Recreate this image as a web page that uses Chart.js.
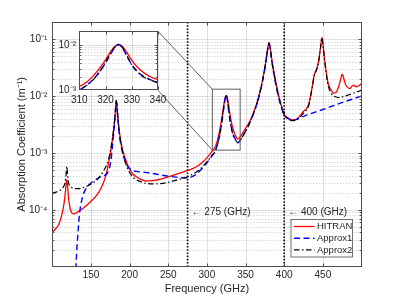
<!DOCTYPE html>
<html><head><meta charset="utf-8">
<script src="https://cdn.jsdelivr.net/npm/chart.js@4"></script>
<style>
html,body{margin:0;padding:0;background:#fff;}
#wrap{position:relative;width:399px;height:299px;overflow:hidden;}
#main{position:absolute;left:0;top:0;}
#inset{position:absolute;left:45px;top:22px;}
</style></head><body>
<div id="wrap"><canvas id="main" width="399" height="299"></canvas><canvas id="inset" width="125" height="90"></canvas></div>
<script>
// ---------- data ----------
const hitranFreq = [100,104,108,111,113,115,116.5,117.5,118.2,118.75,119.3,120,121,122.5,124,126,128,132,138,145,152,158,163,167,170,173,175.5,177.5,179.5,181,182,182.7,183.4,184.5,186,188,190,192,195,199,204,210,216,222,230,240,250,260,270,280,288,295,300,304,307,310,313,316,318,320,322,323.5,325,326.5,328,330,332,334,337,340,344,350,355,360,365,369,372,375,377,379,380.3,381.5,383,385,387,390,393,396,400,405,410,415,420,425,428,432,436,439,441,443,445,447,448.8,450.5,452,454,456,458,461,464,467,470,472.5,474.5,475.5,477,479,482,485,488,490,493,496,500];
const hitranAbs = [4.0e-5,4.6e-5,5.4e-5,7.0e-5,9.0e-5,1.25e-4,1.8e-4,2.5e-4,3.1e-4,3.4e-4,3.1e-4,2.4e-4,1.6e-4,1.15e-4,9.5e-5,8.6e-5,8.5e-5,9.0e-5,1.02e-4,1.22e-4,1.5e-4,1.85e-4,2.4e-4,3.2e-4,4.4e-4,6.8e-4,1.05e-3,1.6e-3,2.6e-3,4.2e-3,6.5e-3,8.5e-3,7.3e-3,4.8e-3,2.9e-3,1.8e-3,1.3e-3,1.0e-3,7.5e-4,5.5e-4,4.3e-4,3.7e-4,3.35e-4,3.2e-4,3.25e-4,3.45e-4,3.8e-4,4.2e-4,4.65e-4,5.2e-4,5.9e-4,7.0e-4,8.2e-4,9.5e-4,1.08e-3,1.22e-3,1.55e-3,2.3e-3,3.2e-3,4.7e-3,7.2e-3,9.2e-3,1.03e-2,9.2e-3,7.0e-3,4.6e-3,3.3e-3,2.6e-3,2.0e-3,1.75e-3,2.0e-3,2.7e-3,3.5e-3,5.0e-3,7.8e-3,1.25e-2,1.9e-2,3.2e-2,4.8e-2,7.3e-2,8.7e-2,7.6e-2,5.4e-2,3.6e-2,2.5e-2,1.55e-2,1.0e-2,7.0e-3,4.8e-3,4.1e-3,3.8e-3,3.85e-3,4.4e-3,5.4e-3,5.8e-3,7.4e-3,1.4e-2,2.4e-2,2.8e-2,3.3e-2,4.5e-2,7.2e-2,1.07e-1,7.5e-2,4.7e-2,2.9e-2,1.9e-2,1.5e-2,1.25e-2,1.12e-2,1.15e-2,1.4e-2,1.85e-2,2.35e-2,2.4e-2,2.05e-2,1.65e-2,1.42e-2,1.36e-2,1.5e-2,1.55e-2,1.45e-2,1.5e-2,1.65e-2];

const approx1Freq = [130.5,131.5,133,135,138,142,147,153,160,167,172,175.5,177.5,179.5,181,182,182.7,183.4,184.5,186,188,190,192,195,199,204,210,220,230,240,250,260,270,278,285,292,298,303,307,310,313,316,318,320,322,323.5,325,326.5,328,330,332,334,337,340,344,350,355,360,365,369,372,375,377,379,380.3,381.5,383,385,387,390,393,396,400,405,410,415,420,430,440,450,460,470,480,490,500];
const approx1Abs = [9e-6,1.8e-5,3.6e-5,8.0e-5,1.45e-4,2.15e-4,2.7e-4,3.2e-4,3.65e-4,4.0e-4,4.6e-4,6.8e-4,1.2e-3,2.3e-3,4.0e-3,6.2e-3,8.2e-3,7.0e-3,4.5e-3,2.6e-3,1.6e-3,1.15e-3,9.0e-4,6.8e-4,5.5e-4,4.9e-4,4.7e-4,4.55e-4,4.35e-4,4.1e-4,3.9e-4,3.75e-4,3.65e-4,3.7e-4,4.1e-4,5.0e-4,6.2e-4,7.6e-4,9.0e-4,1.02e-3,1.32e-3,1.92e-3,2.7e-3,4.0e-3,6.4e-3,8.7e-3,1.02e-2,8.5e-3,5.9e-3,3.7e-3,2.65e-3,2.1e-3,1.72e-3,1.52e-3,1.75e-3,2.4e-3,3.3e-3,4.8e-3,7.5e-3,1.2e-2,1.85e-2,3.1e-2,4.7e-2,7.1e-2,8.5e-2,7.4e-2,5.1e-2,3.3e-2,2.3e-2,1.4e-2,9.2e-3,6.6e-3,4.6e-3,4.0e-3,3.72e-3,3.85e-3,4.15e-3,4.65e-3,5.2e-3,5.8e-3,6.5e-3,7.3e-3,8.1e-3,9.0e-3,1.0e-2];

const approx2Freq = [100,105,110,114,116.5,117.8,118.75,119.7,121,123,126,130,135,140,146,152,158,163,167,170,173,175.5,177.5,179.5,181,182,182.7,183.4,184.5,186,188,190,192,195,199,204,210,216,222,230,238,248,258,268,276,284,292,298,303,307,310,313,316,318,320,322,323.5,325,326.5,328,330,332,334,337,340,344,350,355,360,365,369,372,375,377,379,380.3,381.5,383,385,387,390,393,396,400,405,410,415,420,425,428,432,436,439,441,443,445,447,448.8,450.5,452,454,456,458,461,464,468,472,476,482,488,494,500];
const approx2Abs = [1.95e-4,2.05e-4,2.2e-4,2.5e-4,3.0e-4,4.2e-4,5.8e-4,4.2e-4,3.0e-4,2.6e-4,2.42e-4,2.35e-4,2.35e-4,2.45e-4,2.65e-4,2.95e-4,3.4e-4,4.1e-4,5.0e-4,6.0e-4,8.0e-4,1.15e-3,1.7e-3,2.7e-3,4.3e-3,6.5e-3,8.4e-3,7.2e-3,4.7e-3,2.8e-3,1.7e-3,1.2e-3,9.0e-4,6.5e-4,4.8e-4,3.8e-4,3.3e-4,3.05e-4,2.9e-4,2.85e-4,2.88e-4,3.0e-4,3.25e-4,3.55e-4,3.85e-4,4.4e-4,5.3e-4,6.5e-4,7.8e-4,9.2e-4,1.03e-3,1.3e-3,1.9e-3,2.7e-3,4.1e-3,6.6e-3,8.8e-3,1.02e-2,8.6e-3,6.0e-3,3.6e-3,2.6e-3,2.05e-3,1.7e-3,1.5e-3,1.75e-3,2.4e-3,3.3e-3,4.8e-3,7.6e-3,1.22e-2,1.85e-2,3.1e-2,4.7e-2,7.2e-2,8.6e-2,7.5e-2,5.2e-2,3.4e-2,2.4e-2,1.45e-2,9.5e-3,6.8e-3,4.7e-3,4.0e-3,3.7e-3,3.75e-3,4.2e-3,5.0e-3,5.5e-3,7.0e-3,1.35e-2,2.3e-2,2.7e-2,3.2e-2,4.4e-2,7.0e-2,1.05e-1,7.3e-2,4.5e-2,2.7e-2,1.75e-2,1.35e-2,1.1e-2,1.0e-2,9.5e-3,9.4e-3,9.7e-3,1.03e-2,1.1e-2,1.18e-2,1.27e-2];

const seriesNames = ['HITRAN','Approx1','Approx2'];
const xTickValues = [150,200,250,300,350,400,450];
const yTickValues = [1e-4,1e-3,1e-2,1e-1];
const yTickLabels = ['10\u207B\u2074','10\u207B\u00B3','10\u207B\u00B2','10\u207B\u00B9'];
const insetXTicks = [310,320,330,340];
const insetYTicks = [1e-3,1e-2];
const insetYLabels = ['10\u207B\u00B3','10\u207B\u00B2'];
const markerFreqs = [275,400];
const markerLabels = ['\u2190 275 (GHz)','\u2190 400 (GHz)'];
const zoomBox = {f0:307, f1:343, a0:1.12e-3, a1:1.32e-2};

// ---------- styling ----------
const FONT = "'Liberation Sans', Arial, Helvetica, sans-serif";
const TXT = '#262626';
Chart.defaults.font.family = FONT;
Chart.defaults.color = TXT;

const pts = (f, a) => f.map((v, i) => ({x: v, y: a[i]}));
const styles = [
  {borderColor:'#ff0000', borderWidth:1.3, borderDash:[], order:3},
  {borderColor:'#0000ff', borderWidth:1.4, borderDash:[6,3.5], order:2},
  {borderColor:'#000000', borderWidth:1.2, borderDash:[5.5,2.5,1.5,2.5], order:1}
];
function makeDatasets(){
  const d = [pts(hitranFreq,hitranAbs), pts(approx1Freq,approx1Abs), pts(approx2Freq,approx2Abs)];
  return d.map((data,i)=>Object.assign({label:seriesNames[i], data, fill:false, pointRadius:0, cubicInterpolationMode:'monotone'}, styles[i]));
}

function line(ctx,x0,y0,x1,y1){ctx.beginPath();ctx.moveTo(x0,y0);ctx.lineTo(x1,y1);ctx.stroke();}

function drawGrid(chart, xt, logMinE, logMaxE, minor){
  const {ctx, chartArea:a, scales:{x,y}} = chart;
  ctx.save();
  ctx.lineWidth = 1;
  if (minor){
    ctx.strokeStyle = 'rgba(38,38,38,0.25)';
    ctx.setLineDash([1,2]);
    for (let e=logMinE; e<=logMaxE; e++) for (let k=2;k<=9;k++){
      const v = k*Math.pow(10,e);
      if (v<=y.min || v>=y.max) continue;
      const py = Math.round(y.getPixelForValue(v))+0.5;
      line(ctx,a.left,py,a.right,py);
    }
  }
  ctx.setLineDash([]);
  ctx.strokeStyle = 'rgba(38,38,38,0.15)';
  for (let e=logMinE; e<=logMaxE; e++){
    const v = Math.pow(10,e);
    if (v<=y.min || v>=y.max) continue;
    const py = Math.round(y.getPixelForValue(v))+0.5;
    line(ctx,a.left,py,a.right,py);
  }
  xt.forEach(v=>{const px=Math.round(x.getPixelForValue(v))+0.5; line(ctx,px,a.top,px,a.bottom);});
  ctx.restore();
}

function drawFrame(chart, xt, logMinE, logMaxE){
  const {ctx, chartArea:a, scales:{x,y}} = chart;
  ctx.save();
  ctx.strokeStyle = '#4d4d4d';
  ctx.lineWidth = 1;
  const L=Math.round(a.left)+0.5, R=Math.round(a.right)-0.5, T=Math.round(a.top)+0.5, B=Math.round(a.bottom)-0.5;
  ctx.strokeRect(L,T,R-L,B-T);
  xt.forEach(v=>{const px=Math.round(x.getPixelForValue(v))+0.5; line(ctx,px,B,px,B-3); line(ctx,px,T,px,T+3);});
  for (let e=logMinE; e<=logMaxE; e++) for (let k=1;k<=9;k++){
    const v = k*Math.pow(10,e);
    if (v<=y.min || v>=y.max) continue;
    const py = Math.round(y.getPixelForValue(v))+0.5;
    const len = k===1?3:1.8;
    line(ctx,L,py,L+len,py); line(ctx,R,py,R-len,py);
  }
  ctx.restore();
}

// ---------- inset chart ----------
const insetChart = new Chart(document.getElementById('inset'), {
  type:'line',
  data:{datasets: makeDatasets()},
  options:{
    responsive:false, animation:false, devicePixelRatio:1, events:[],
    layout:{padding:{left:0, top:7.3, right:10, bottom:0}},
    plugins:{legend:{display:false}, tooltip:{enabled:false}},
    scales:{
      x:{type:'linear', min:310, max:340,
        afterBuildTicks:s=>{s.ticks = insetXTicks.map(v=>({value:v}));},
        afterFit:s=>{s.height = 21.7;},
        grid:{display:false, drawTicks:false}, border:{display:false},
        ticks:{autoSkip:false, maxRotation:0, padding:3.7, font:{size:10}, color:TXT, callback:v=>String(v)}},
      y:{type:'logarithmic', min:1e-3, max:2e-2,
        afterBuildTicks:s=>{s.ticks = insetYTicks.map(v=>({value:v}));},
        afterFit:s=>{s.width = 34.3;},
        grid:{display:false, drawTicks:false}, border:{display:false},
        ticks:{autoSkip:false, padding:3.3, font:{size:10}, color:TXT, callback:(v,i)=>insetYLabels[i]}}
    }
  },
  plugins:[{
    id:'insetDeco',
    beforeDraw(chart){const {ctx,chartArea:a}=chart; ctx.save(); ctx.fillStyle='#fff'; ctx.fillRect(a.left,a.top,a.right-a.left,a.bottom-a.top); ctx.restore();},
    beforeDatasetsDraw(chart){drawGrid(chart, insetXTicks, -3, -2, true);},
    afterDatasetsDraw(chart){drawFrame(chart, insetXTicks, -3, -2);}
  }]
});

// ---------- main chart ----------
const insetLeft = 45, insetTop = 22;
const mainChart = new Chart(document.getElementById('main'), {
  type:'line',
  data:{datasets: makeDatasets()},
  options:{
    responsive:false, animation:false, devicePixelRatio:1, events:[],
    layout:{padding:{left:0, top:22, right:37.5, bottom:0}},
    plugins:{legend:{display:false}, tooltip:{enabled:false}},
    scales:{
      x:{type:'linear', min:100, max:500,
        afterBuildTicks:s=>{s.ticks = xTickValues.map(v=>({value:v}));},
        afterFit:s=>{s.height = 32.3;},
        grid:{display:false, drawTicks:false}, border:{display:false},
        ticks:{autoSkip:false, maxRotation:0, padding:3, font:{size:10}, color:TXT, callback:v=>String(v)},
        title:{display:true, text:'Frequency (GHz)', font:{size:11}, color:TXT, padding:{top:0,bottom:3}}},
      y:{type:'logarithmic', min:1e-5, max:0.2,
        afterBuildTicks:s=>{s.ticks = yTickValues.map(v=>({value:v}));},
        afterFit:s=>{s.width = 52.3;},
        grid:{display:false, drawTicks:false}, border:{display:false},
        ticks:{autoSkip:false, padding:5, font:{size:10}, color:TXT, callback:(v,i)=>yTickLabels[i]},
        title:{display:true, text:'Absorption Coefficient (m\u207B\u00B9)', font:{size:11}, color:TXT, padding:{top:15.4,bottom:0}}}
    }
  },
  plugins:[{
    id:'mainDeco',
    beforeDatasetsDraw(chart){drawGrid(chart, xTickValues, -5, -1, true);},
    afterDatasetsDraw(chart){
      const {ctx, chartArea:a, scales:{x,y}} = chart;
      ctx.save();
      ctx.strokeStyle='#000'; ctx.lineWidth=1.6; ctx.setLineDash([1.6,1.6]);
      markerFreqs.forEach(f=>{const px=x.getPixelForValue(f); line(ctx,px,a.top,px,a.bottom);});
      ctx.setLineDash([]);
      ctx.strokeStyle='#4d4d4d'; ctx.lineWidth=0.9;
      const bx0=x.getPixelForValue(zoomBox.f0), bx1=x.getPixelForValue(zoomBox.f1);
      const by0=y.getPixelForValue(zoomBox.a1), by1=y.getPixelForValue(zoomBox.a0);
      ctx.strokeRect(bx0,by0,bx1-bx0,by1-by0);
      const ia = insetChart.chartArea;
      line(ctx, insetLeft+ia.right, insetTop+ia.top, bx0, by0);
      line(ctx, insetLeft+ia.right, insetTop+ia.bottom, bx0, by1);
      ctx.restore();
      drawFrame(chart, xTickValues, -5, -1);
    },
    afterDraw(chart){
      const {ctx, scales:{x,y}} = chart;
      ctx.save();
      ctx.font = '10px '+FONT; ctx.fillStyle=TXT; ctx.textBaseline='middle'; ctx.textAlign='left';
      markerFreqs.forEach((f,i)=>{ctx.fillText(markerLabels[i], x.getPixelForValue(f)+4, y.getPixelForValue(9.0e-5));});
      const lx=290.5, ly=219, lw=61.5, lh=37.5;
      ctx.fillStyle='#fff'; ctx.fillRect(lx,ly,lw,lh);
      ctx.strokeStyle='#4d4d4d'; ctx.lineWidth=0.8; ctx.strokeRect(lx+0.5,ly+0.5,lw,lh);
      const ds = chart.data.datasets;
      ctx.font='9.5px '+FONT; ctx.fillStyle=TXT;
      ds.forEach((d,i)=>{
        const yy = ly+7.5+i*11.7;
        ctx.strokeStyle=d.borderColor; ctx.lineWidth=d.borderWidth; ctx.setLineDash(d.borderDash||[]);
        line(ctx,lx+3.5,yy,lx+24,yy);
        ctx.setLineDash([]);
        ctx.fillStyle=TXT; ctx.fillText(d.label, lx+26.5, yy);
      });
      ctx.restore();
    }
  }]
});
</script>
</body></html>
